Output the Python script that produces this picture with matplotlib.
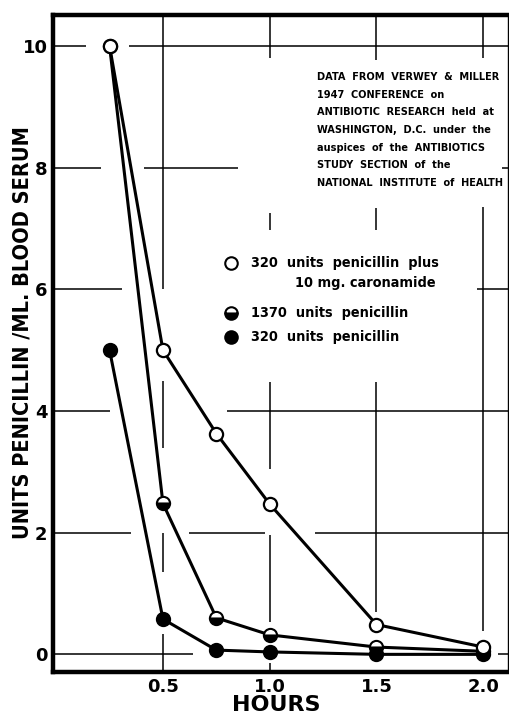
import matplotlib.pyplot as plt
from matplotlib.lines import Line2D

# --- data: penicillin level in blood serum after injection ---
hours = [0.25, 0.5, 0.75, 1.0, 1.5, 2.0]
pen320_caronamide = [10.0, 5.0, 3.63, 2.47, 0.49, 0.12]
pen1370 = [10.0, 2.48, 0.60, 0.32, 0.12, 0.05]
pen320 = [5.0, 0.58, 0.07, 0.04, 0.0, 0.0]

x_ticks = [0.5, 1.0, 1.5, 2.0]
x_ticklabels = ['0.5', '1.0', '1.5', '2.0']
y_ticks = [0, 2, 4, 6, 8, 10]

legend_labels = ['320  units  penicillin  plus', '1370  units  penicillin', '320  units  penicillin']
legend_sub = '10 mg. caronamide'
note = ('DATA  FROM  VERWEY  &  MILLER\n'
        '1947  CONFERENCE  on\n'
        'ANTIBIOTIC  RESEARCH  held  at\n'
        'WASHINGTON,  D.C.  under  the\n'
        'auspices  of  the  ANTIBIOTICS\n'
        'STUDY  SECTION  of  the\n'
        'NATIONAL  INSTITUTE  of  HEALTH')

XMIN, XMAX = -0.015, 2.116
YMIN, YMAX = -0.29, 10.51

narrow = dict(family='DejaVu Sans', stretch='condensed', fontweight='bold')

fig = plt.figure(figsize=(5.1, 7.18), dpi=100)
ax = fig.add_axes([53 / 510, 46 / 718, (508 - 53) / 510, (672 - 15) / 718])
ax.set_xlim(XMIN, XMAX)
ax.set_ylim(YMIN, YMAX)

# hand-ruled grid, broken where the lettering sits
hgrid = {
    10: [(XMIN, 0.14), (0.34, XMAX)],
    8: [(XMIN, 0.21), (0.41, 0.85), (2.09, XMAX)],
    6: [(XMIN, 0.31), (1.97, XMAX)],
    4: [(XMIN, 0.25), (0.80, XMAX)],
    2: [(XMIN, 0.35), (0.62, 0.98), (1.21, XMAX)],
    0: [(XMIN, 0.64), (2.07, XMAX)],
}
vgrid = {
    0.5: [(6.0, YMAX), (3.4, 4.5), (1.36, 2.0), (YMIN, 0.33)],
    1.0: [(9.8, YMAX), (6.98, 7.25), (3.04, 4.48), (0.54, 1.97), (YMIN, -0.14)],
    1.5: [(9.77, YMAX), (6.98, 7.34), (0.7, 4.48)],
    2.0: [(9.8, YMAX), (0.38, 7.35)],
}
for yv, segs in hgrid.items():
    for a, b in segs:
        ax.plot([a, b], [yv, yv], color='black', lw=1.1, zorder=1, solid_capstyle='butt')
for xv, segs in vgrid.items():
    for a, b in segs:
        ax.plot([xv, xv], [a, b], color='black', lw=1.1, zorder=1, solid_capstyle='butt')

# curves
ax.plot(hours, pen320, color='black', lw=2.2, marker='o', ms=9.5,
        mfc='black', mec='black', mew=1.5, zorder=3)
ax.plot(hours, pen1370, color='black', lw=2.2, marker='o', ms=9.5, fillstyle='bottom',
        mfc='black', mfcalt='white', mec='black', mew=1.5, zorder=4)
ax.plot(hours, pen320_caronamide, color='black', lw=2.2, marker='o', ms=9.5,
        mfc='white', mec='black', mew=1.6, zorder=5)

# spines and ticks
for side in ['left', 'bottom', 'top']:
    ax.spines[side].set_linewidth(3.2)
ax.spines['right'].set_linewidth(1.0)
ax.set_xticks(x_ticks)
ax.set_xticklabels(x_ticklabels)
ax.set_yticks(y_ticks)
ax.tick_params(length=0, labelsize=13, pad=4)
for lab in ax.get_xticklabels() + ax.get_yticklabels():
    lab.set_fontweight('bold')

ax.set_xlabel('HOURS', fontsize=16, fontweight='bold')
ax.xaxis.set_label_coords((276 - 53) / 455, -0.035)
ax.set_ylabel('UNITS PENICILLIN /ML. BLOOD SERUM', fontsize=15.6, **narrow)
ax.yaxis.set_label_coords(-0.046, 0.516)

# source note
ax.text(1.22, 9.57, note, fontsize=7.8, va='top', ha='left',
        linespacing=1.95, zorder=6, **narrow)

# key
key_x = (231 - 53) / 455
rows_y = [(672 - 263) / 657, (672 - 313) / 657, (672 - 337) / 657]
styles = [dict(mfc='white'), dict(fillstyle='bottom', mfc='black', mfcalt='white'), dict(mfc='black')]
for yk, st, lab in zip(rows_y, styles, legend_labels):
    ax.add_line(Line2D([key_x], [yk], transform=ax.transAxes, marker='o', ms=9,
                       mec='black', mew=1.5, ls='none', clip_on=False, **st))
    ax.text((251 - 53) / 455, yk, lab, transform=ax.transAxes, fontsize=10.4,
            va='center', ha='left', **narrow)
ax.text((295 - 53) / 455, (672 - 283) / 657, legend_sub, transform=ax.transAxes,
        fontsize=10.4, va='center', ha='left', **narrow)

fig.savefig('out.png', dpi=100)
